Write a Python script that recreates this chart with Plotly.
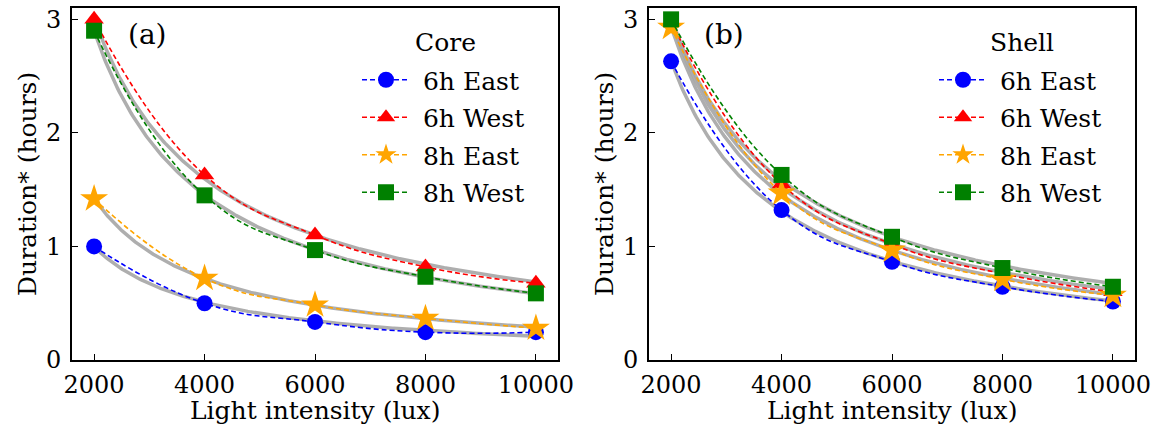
import numpy as np
import plotly.graph_objects as go

# ---------------- data ----------------
lux = [2000, 4000, 6000, 8000, 10000]
series_names = ["6h East", "6h West", "8h East", "8h West"]

core_6h_east = [1.00, 0.50, 0.335, 0.245, 0.245]
core_6h_west = [3.00, 1.63, 1.10, 0.82, 0.675]
core_8h_east = [1.42, 0.72, 0.485, 0.367, 0.28]
core_8h_west = [2.90, 1.45, 0.968, 0.733, 0.587]

shell_6h_east = [2.63, 1.32, 0.865, 0.645, 0.515]
shell_6h_west = [2.98, 1.55, 1.02, 0.76, 0.60]
shell_8h_east = [2.93, 1.47, 0.968, 0.71, 0.57]
shell_8h_west = [3.00, 1.63, 1.085, 0.81, 0.645]

colors = ["#0000ff", "#ff0000", "#ffa500", "#008000"]
symbols = ["circle", "triangle-up", "star", "square"]
msizes = [16, 17, 21, 16]

FONT = "DejaVu Serif"
W, H = 1163, 434
NB = "\u00a0"  # small gap between legend symbol and label

fig = go.Figure()


def power_fit(x, y):
    """Least-squares fit y = a * x**b (in linear space)."""
    x = np.asarray(x, float)
    y = np.asarray(y, float)
    best = None
    for b in np.linspace(-2.0, -0.2, 1801):
        xb = x ** b
        a = np.sum(y * xb) / np.sum(xb * xb)
        sse = np.sum((y - a * xb) ** 2)
        if best is None or sse < best[0]:
            best = (sse, a, b)
    return best[1], best[2]


def add_panel(data, xa, ya, legend_name):
    # fitted power-law curves (grey) computed from the data
    xs = np.linspace(lux[0], lux[-1], 300)
    for y in data:
        a, b = power_fit(lux, y)
        fig.add_trace(go.Scatter(
            x=xs, y=a * xs ** b, mode="lines",
            line=dict(color="rgba(165,165,165,0.9)", width=3.5),
            xaxis=xa, yaxis=ya, showlegend=False, hoverinfo="skip"))
    for i, y in enumerate(data):
        fig.add_trace(go.Scatter(
            x=lux, y=y, mode="lines+markers", name=NB + series_names[i],
            line=dict(color=colors[i], width=1.6, dash="5px,3px",
                      shape="spline", smoothing=1.3),
            marker=dict(symbol=symbols[i], size=msizes[i], color=colors[i],
                        line=dict(width=0)),
            xaxis=xa, yaxis=ya, legend=legend_name,
            legendgroup=legend_name + str(i)))


add_panel([core_6h_east, core_6h_west, core_8h_east, core_8h_west],
          "x", "y", "legend")
add_panel([shell_6h_east, shell_6h_west, shell_8h_east, shell_8h_west],
          "x2", "y2", "legend2")

# pixel layout
ax_left = [72, 649]
ax_w = 486
y_top, y_bot = 8, 360
ydom = [1 - y_bot / H, 1 - y_top / H]

axis_common = dict(
    showline=True, linecolor="black", linewidth=1.6, mirror=True,
    ticks="inside", ticklen=6, tickwidth=1.4, tickcolor="black",
    showgrid=False, zeroline=False, automargin=False,
    tickfont=dict(family=FONT, size=24, color="black"),
)

layout_axes = {}
for k, left in enumerate(ax_left):
    sfx = "" if k == 0 else "2"
    layout_axes["xaxis" + sfx] = dict(
        axis_common,
        domain=[left / W, (left + ax_w) / W],
        range=[1600, 10400],
        tickvals=lux, ticktext=[str(v) for v in lux],
        anchor="y" + sfx,
        ticklabelstandoff=2,
    )
    layout_axes["yaxis" + sfx] = dict(
        axis_common,
        domain=ydom,
        range=[0, 3.1],
        tickvals=[0, 1, 2, 3], ticktext=["0", "1", "2", "3"],
        anchor="x" + sfx,
        ticklabelstandoff=4,
    )

annotations = []
for k, left in enumerate(ax_left):
    cx = left + ax_w / 2
    annotations.append(dict(
        x=cx / W, y=1 - 410 / H, xref="paper", yref="paper",
        text="Light intensity (lux)", showarrow=False,
        xanchor="center", yanchor="middle",
        font=dict(family=FONT, size=25, color="black")))
    annotations.append(dict(
        x=(left - 44) / W, y=1 - 184 / H, xref="paper", yref="paper",
        text="Duration* (hours)", showarrow=False, textangle=-90,
        xanchor="center", yanchor="middle",
        font=dict(family=FONT, size=25, color="black")))
    annotations.append(dict(
        x=(left + 75) / W, y=1 - 34 / H, xref="paper", yref="paper",
        text="(a)" if k == 0 else "(b)", showarrow=False,
        xanchor="center", yanchor="middle",
        font=dict(family=FONT, size=28, color="black")))
    # legend titles
    annotations.append(dict(
        x=(left + 373) / W, y=1 - 43 / H, xref="paper", yref="paper",
        text="Core" if k == 0 else "Shell", showarrow=False,
        xanchor="center", yanchor="middle",
        font=dict(family=FONT, size=25, color="black")))

legend_common = dict(
    xanchor="left", yanchor="top",
    bgcolor="rgba(0,0,0,0)", borderwidth=0,
    font=dict(family=FONT, size=25, color="black"),
    tracegroupgap=2, itemwidth=48,
)

fig.update_layout(
    width=W, height=H,
    margin=dict(l=0, r=0, t=0, b=0),
    paper_bgcolor="white", plot_bgcolor="white",
    showlegend=True,
    legend=dict(legend_common, x=(ax_left[0] + 285) / W, y=1 - 57 / H),
    legend2=dict(legend_common, x=(ax_left[1] + 285) / W, y=1 - 57 / H),
    annotations=annotations,
    **layout_axes,
)

fig.write_html("out.html")
